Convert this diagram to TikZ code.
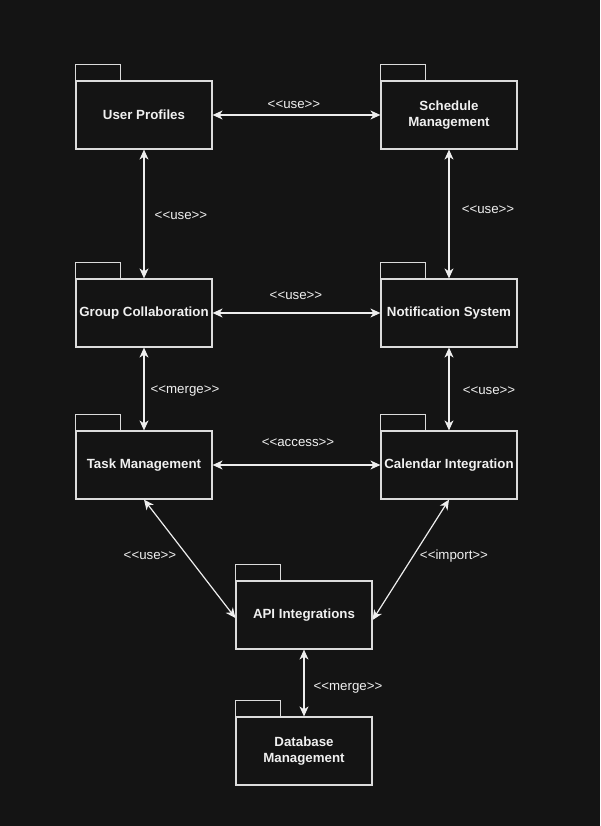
\documentclass[tikz,border=0pt]{standalone}
\usepackage{fontspec}
\setmainfont{Liberation Sans}
\usetikzlibrary{arrows.meta}
\definecolor{bgc}{HTML}{141414}
\definecolor{linec}{HTML}{DCDCDC}
\definecolor{arrc}{HTML}{EEEEEE}
\definecolor{txtc}{HTML}{F0F0F0}
\newcommand{\stereo}[1]{<\kern0pt<#1>\kern0pt>}
\tikzset{
  pkg/.style={draw=linec, line width=1.2pt, minimum width=136pt, minimum height=68pt,
    inner sep=0pt, align=center, text=txtc,
    font=\fontsize{13.3}{16.5}\selectfont\bfseries},
  tabbox/.style={draw=linec, line width=1.2pt},
  rel/.style={draw=arrc, line width=1.2pt,
    {Stealth[length=10pt,width=9pt,inset=3pt]}-{Stealth[length=10pt,width=9pt,inset=3pt]}},
  lbl/.style={text=txtc, font=\fontsize{13.3}{16}\selectfont, inner sep=0pt}
}
\begin{document}
\begin{tikzpicture}[x=1pt,y=-1pt]
\fill[bgc] (0,0) rectangle (600,826);
\useasboundingbox (0,0) rectangle (600,826);
% packages
\node[pkg] (up) at (144,115) {User Profiles};
\node[pkg] (sm) at (449,115) {Schedule\\Management};
\node[pkg] (gc) at (144,313) {Group Collaboration};
\node[pkg] (ns) at (449,313) {Notification System};
\node[pkg] (tm) at (144,465) {Task Management};
\node[pkg] (ci) at (449,465) {Calendar Integration};
\node[pkg] (api) at (304,615) {API Integrations};
\node[pkg] (db) at (304,751) {Database\\Management};
% tabs
\foreach \n in {up,sm,gc,ns,tm,ci,api,db}{
  \draw[tabbox] (\n.north west) rectangle ([xshift=45pt,yshift=16pt]\n.north west);
}
% relations
\draw[rel] (up.east) -- (sm.west);
\draw[rel] (up.south) -- (gc.north);
\draw[rel] (sm.south) -- (ns.north);
\draw[rel] (gc.east) -- (ns.west);
\draw[rel] (gc.south) -- (tm.north);
\draw[rel] (ns.south) -- (ci.north);
\draw[rel] (tm.east) -- (ci.west);
\draw[rel] (tm.south) -- ([yshift=-3pt]api.west);
\draw[rel] (ci.south) -- ([yshift=-5pt]api.east);
\draw[rel] (api.south) -- (db.north);
% labels
\node[lbl] (l1) at (294,105) {\stereo{use}};
\node[lbl] (l2) at (181,216) {\stereo{use}};
\node[lbl] (l3) at (488,210) {\stereo{use}};
\node[lbl] (l4) at (296,296) {\stereo{use}};
\node[lbl] (l5) at (185,391) {\stereo{merge}};
\node[lbl] (l6) at (489,391) {\stereo{use}};
\node[lbl] (l7) at (298,443) {\stereo{access}};
\node[lbl] (l8) at (150,556) {\stereo{use}};
\node[lbl] (l9) at (454,556) {\stereo{import}};
\node[lbl] (l10) at (348,688) {\stereo{merge}};
\end{tikzpicture}
\end{document}
